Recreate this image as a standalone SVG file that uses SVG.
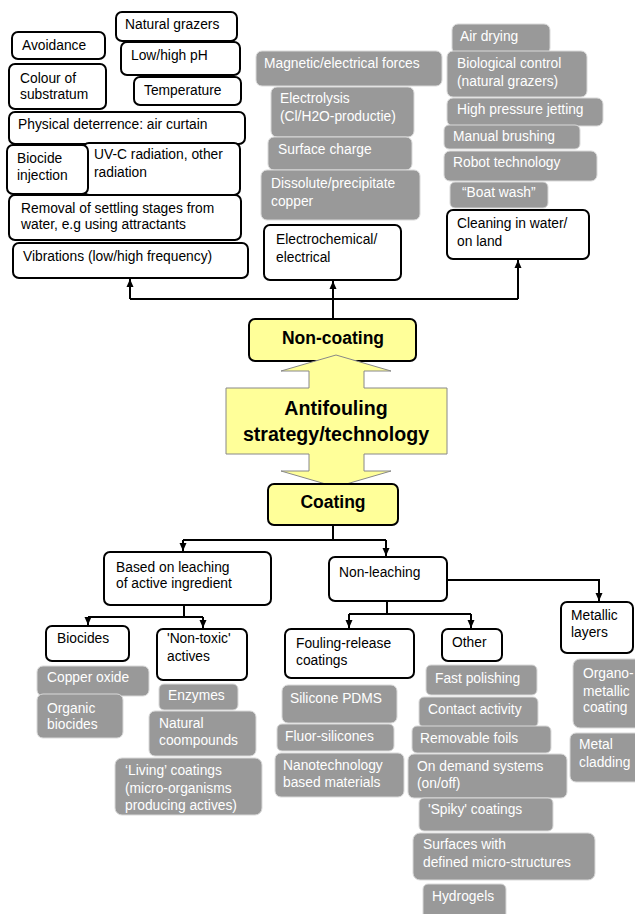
<svg xmlns="http://www.w3.org/2000/svg" width="635" height="914" viewBox="0 0 635 914">
<style>
text{font-family:"Liberation Sans",Arial,sans-serif;font-size:13.8px}
.b rect{fill:#fff;stroke:#000;stroke-width:2}
.b text{fill:#000}
.g rect{fill:#999;stroke:#d9d9d9;stroke-width:1}
.g text{fill:#fff}
.y rect,.y polygon{fill:#ffff99;stroke:#000;stroke-width:2}
.y text{font-weight:bold;font-size:17.5px;text-anchor:middle;fill:#000}
.y text.big{font-size:19.6px}
.c path{fill:none;stroke:#000;stroke-width:2}
</style>
<defs>
<marker id="ah" markerUnits="userSpaceOnUse" markerWidth="8" markerHeight="8" viewBox="0 0 8 8" refX="8" refY="4" orient="auto">
<path d="M0,0.5 L8,4 L0,7.5 Z" fill="#000"/>
</marker>
</defs>
<rect width="635" height="914" fill="#fff"/>

<!-- top-left non-coating factors -->
<g id="natural-grazers" class="b"><rect x="116" y="12" width="121" height="29" rx="6"/><text x="125" y="29">Natural grazers</text></g>
<g id="avoidance" class="b"><rect x="12" y="32" width="93" height="27" rx="6"/><text x="22" y="50">Avoidance</text></g>
<g id="low-high-ph" class="b"><rect x="121" y="42" width="119" height="33" rx="6"/><text x="131" y="60">Low/high pH</text></g>
<g id="colour" class="b"><rect x="9" y="64" width="97" height="45" rx="6"/><text x="20" y="83">Colour of</text><text x="20" y="99">substratum</text></g>
<g id="temperature" class="b"><rect x="134" y="77" width="107" height="28" rx="6"/><text x="144" y="95">Temperature</text></g>
<g id="physical" class="b"><rect x="9" y="112" width="236" height="32" rx="6"/><text x="18" y="129">Physical deterrence: air curtain</text></g>
<g id="uvc" class="b"><rect x="83" y="143" width="157" height="52" rx="6"/><text x="94" y="159">UV-C radiation, other</text><text x="94" y="177">radiation</text></g>
<g id="biocide-injection" class="b"><rect x="7" y="145" width="81" height="49" rx="6"/><text x="17" y="163">Biocide</text><text x="17" y="180">injection</text></g>
<g id="removal" class="b"><rect x="9" y="195" width="232" height="45" rx="6"/><text x="21" y="213">Removal of settling stages from</text><text x="21" y="229">water, e.g using attractants</text></g>
<g id="vibrations" class="b"><rect x="13" y="243" width="235" height="35" rx="6"/><text x="23" y="261">Vibrations (low/high frequency)</text></g>

<!-- electrochemical column -->
<g id="magnetic" class="g"><rect x="256" y="51" width="186" height="35" rx="6"/><text x="264" y="68">Magnetic/electrical forces</text></g>
<g id="electrolysis" class="g"><rect x="271" y="87" width="143" height="50" rx="6"/><text x="280" y="103">Electrolysis</text><text x="280" y="121">(Cl/H2O-productie)</text></g>
<g id="surface-charge" class="g"><rect x="268" y="137" width="144" height="33" rx="6"/><text x="278" y="154">Surface charge</text></g>
<g id="dissolute" class="g"><rect x="261" y="170" width="159" height="50" rx="6"/><text x="271" y="188">Dissolute/precipitate</text><text x="271" y="206">copper</text></g>
<g id="electrochemical" class="b"><rect x="264" y="225" width="137" height="55" rx="6"/><text x="276" y="244">Electrochemical/</text><text x="276" y="262">electrical</text></g>

<!-- cleaning column -->
<g id="air-drying" class="g"><rect x="452" y="24" width="98" height="30" rx="6"/><text x="460" y="41">Air drying</text></g>
<g id="biological" class="g"><rect x="447" y="51" width="140" height="46" rx="6"/><text x="457" y="68">Biological control</text><text x="457" y="86">(natural grazers)</text></g>
<g id="high-pressure" class="g"><rect x="447" y="98" width="156" height="28" rx="6"/><text x="457" y="114">High pressure jetting</text></g>
<g id="manual" class="g"><rect x="444" y="125" width="136" height="24" rx="5"/><text x="453" y="141">Manual brushing</text></g>
<g id="robot" class="g"><rect x="444" y="151" width="153" height="30" rx="6"/><text x="453" y="167">Robot technology</text></g>
<g id="boat-wash" class="g"><rect x="450" y="182" width="98" height="26" rx="5"/><text x="462" y="197">“Boat wash”</text></g>
<g id="cleaning" class="b"><rect x="447" y="210" width="142" height="49" rx="6"/><text x="457" y="228">Cleaning in water/</text><text x="457" y="246">on land</text></g>

<!-- central -->
<g id="non-coating" class="y"><rect x="249" y="319" width="167" height="42" rx="6"/><text x="333" y="344">Non-coating</text></g>
<g id="antifouling" class="y">
<polygon points="336,355 391,371 364,371 364,388 447,388 447,454 364,454 364,471 391,471 336,487 281,471 309,471 309,454 226,454 226,388 309,388 309,371 281,371" style="stroke:#888;stroke-width:1"/>
<text class="big" x="336" y="415">Antifouling</text><text class="big" x="336" y="441">strategy/technology</text></g>
<g id="coating" class="y"><rect x="268" y="484" width="130" height="41" rx="6"/><text x="333" y="508">Coating</text></g>

<!-- coating branch -->
<g id="leaching" class="b"><rect x="104" y="552" width="167" height="53" rx="6"/><text x="116" y="572">Based on leaching</text><text x="116" y="588">of active ingredient</text></g>
<g id="non-leaching" class="b"><rect x="329" y="557" width="118" height="44" rx="6"/><text x="339" y="577">Non-leaching</text></g>
<g id="biocides" class="b"><rect x="46" y="626" width="83" height="35" rx="6"/><text x="57" y="643">Biocides</text></g>
<g id="non-toxic" class="b"><rect x="157" y="629" width="90" height="51" rx="6"/><text x="167" y="643">'Non-toxic'</text><text x="167" y="661">actives</text></g>
<g id="copper-oxide" class="g"><rect x="37" y="666" width="112" height="30" rx="6"/><text x="47" y="682">Copper oxide</text></g>
<g id="organic-biocides" class="g"><rect x="37" y="694" width="86" height="44" rx="6"/><text x="47" y="713">Organic</text><text x="47" y="729">biocides</text></g>
<g id="enzymes" class="g"><rect x="159" y="684" width="79" height="26" rx="5"/><text x="168" y="700">Enzymes</text></g>
<g id="natural-compounds" class="g"><rect x="149" y="711" width="107" height="45" rx="6"/><text x="159" y="728">Natural</text><text x="159" y="745">coompounds</text></g>
<g id="living" class="g"><rect x="115" y="758" width="147" height="57" rx="7"/><text x="125" y="775">‘Living’ coatings</text><text x="125" y="793">(micro-organisms</text><text x="125" y="810">producing actives)</text></g>

<g id="fouling-release" class="b"><rect x="285" y="629" width="129" height="49" rx="6"/><text x="296" y="648">Fouling-release</text><text x="296" y="665">coatings</text></g>
<g id="silicone" class="g"><rect x="282" y="685" width="115" height="38" rx="6"/><text x="290" y="703">Silicone PDMS</text></g>
<g id="fluor" class="g"><rect x="277" y="724" width="117" height="27" rx="5"/><text x="285" y="741">Fluor-silicones</text></g>
<g id="nanotech" class="g"><rect x="275" y="753" width="129" height="44" rx="6"/><text x="283" y="770">Nanotechnology</text><text x="283" y="787">based materials</text></g>

<g id="other" class="b"><rect x="442" y="629" width="60" height="32" rx="6"/><text x="452" y="647">Other</text></g>
<g id="fast-polishing" class="g"><rect x="426" y="665" width="111" height="30" rx="5"/><text x="435" y="683">Fast polishing</text></g>
<g id="contact" class="g"><rect x="419" y="697" width="119" height="30" rx="5"/><text x="428" y="714">Contact activity</text></g>
<g id="removable" class="g"><rect x="412" y="726" width="139" height="27" rx="5"/><text x="420" y="743">Removable foils</text></g>
<g id="on-demand" class="g"><rect x="408" y="754" width="159" height="44" rx="6"/><text x="417" y="771">On demand systems</text><text x="417" y="788">(on/off)</text></g>
<g id="spiky" class="g"><rect x="419" y="798" width="134" height="33" rx="5"/><text x="428" y="814">'Spiky' coatings</text></g>
<g id="surfaces" class="g"><rect x="413" y="833" width="182" height="47" rx="7"/><text x="423" y="849">Surfaces with</text><text x="423" y="867">defined micro-structures</text></g>
<g id="hydrogels" class="g"><rect x="423" y="884" width="83" height="40" rx="5"/><text x="432" y="901">Hydrogels</text></g>

<g id="metallic" class="b"><rect x="561" y="602" width="72" height="51" rx="6"/><text x="571" y="620">Metallic</text><text x="571" y="637">layers</text></g>
<g id="organo-metallic" class="g"><rect x="573" y="659" width="70" height="69" rx="7"/><text x="583" y="678">Organo-</text><text x="583" y="696">metallic</text><text x="583" y="712">coating</text></g>
<g id="metal-cladding" class="g"><rect x="570" y="733" width="73" height="49" rx="6"/><text x="579" y="749">Metal</text><text x="579" y="767">cladding</text></g>

<!-- connectors -->
<g id="connectors" class="c">
<path d="M333,319 V299"/>
<path d="M130,299 H518"/>
<path d="M130,299 V279" marker-end="url(#ah)"/>
<path d="M333,299 V281" marker-end="url(#ah)"/>
<path d="M518,299 V260" marker-end="url(#ah)"/>
<path d="M333,525 V540"/>
<path d="M183,540 H386"/>
<path d="M183,540 V551" marker-end="url(#ah)"/>
<path d="M386,540 V556" marker-end="url(#ah)"/>
<path d="M184,605 V617"/>
<path d="M88,617 H203"/>
<path d="M88,617 V625" marker-end="url(#ah)"/>
<path d="M203,617 V628" marker-end="url(#ah)"/>
<path d="M387,601 V614"/>
<path d="M349,614 H471"/>
<path d="M349,614 V628" marker-end="url(#ah)"/>
<path d="M471,614 V628" marker-end="url(#ah)"/>
<path d="M447,580 H599 V601" marker-end="url(#ah)"/>
</g>
</svg>
